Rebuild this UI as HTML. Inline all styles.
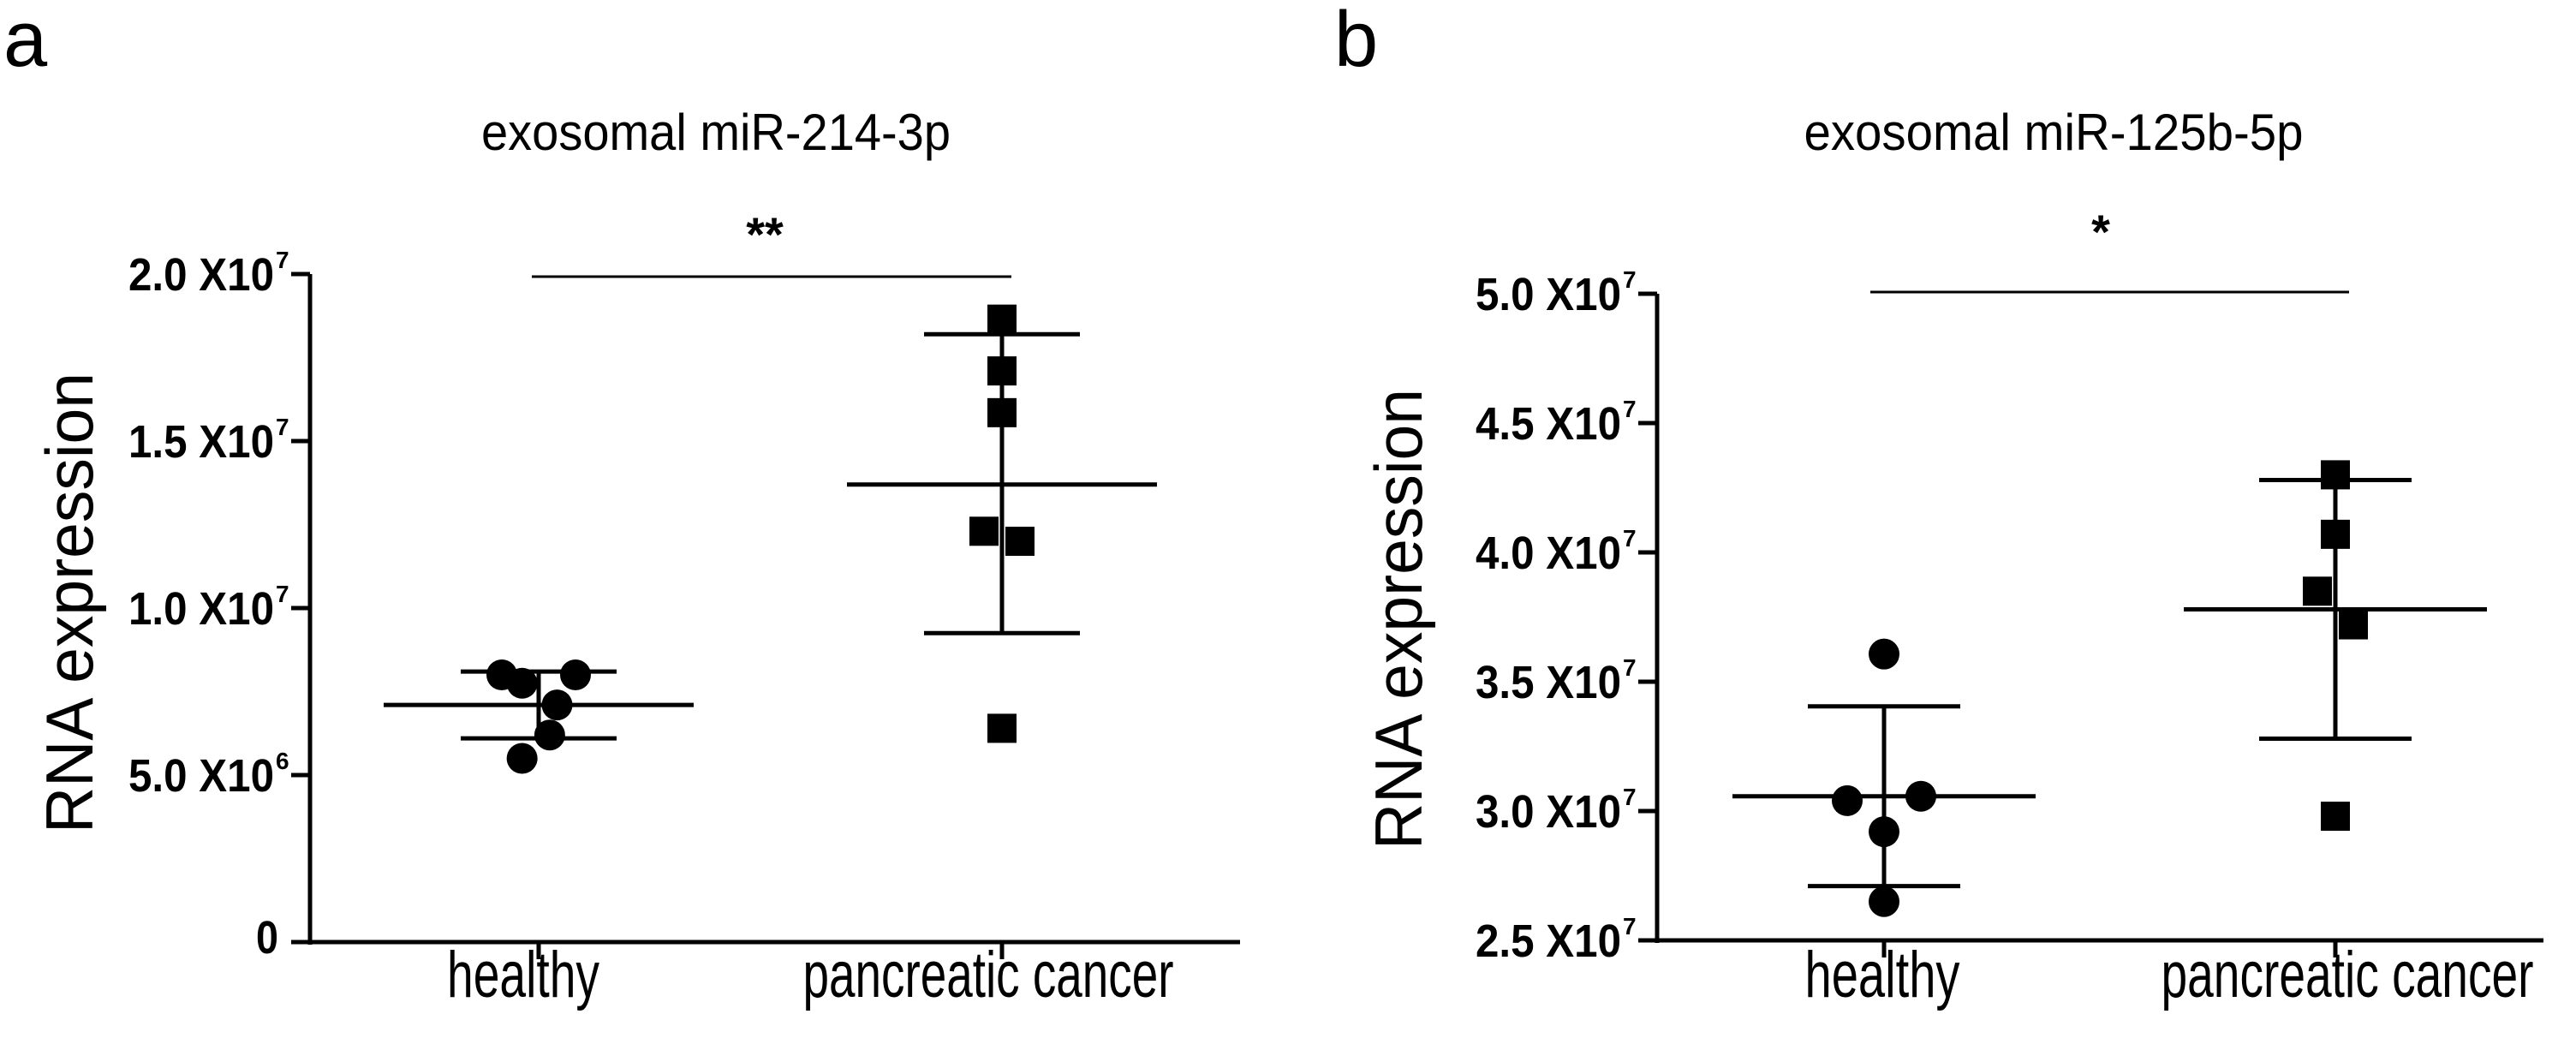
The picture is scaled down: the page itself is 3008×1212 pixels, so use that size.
<!DOCTYPE html>
<html><head><meta charset="utf-8"><style>
html,body{margin:0;padding:0;background:#fff;}
svg{display:block;}
text{font-family:"Liberation Sans",sans-serif;fill:#000;}
</style></head><body>
<svg id="fig" width="3008" height="1212" viewBox="0 0 3008 1212" xmlns="http://www.w3.org/2000/svg"></svg>
<script>
// Panel a data (units of 1e6)
const catsA = ["healthy", "pancreatic cancer"];
const healthyA = [8.0, 7.75, 8.0, 7.1, 6.2, 5.5];
const healthyAX = [-1.0, -0.45, 1.0, 0.5, 0.3, -0.45];
const cancerA = [18.65, 17.1, 15.85, 12.3, 12.0, 6.4];
const cancerAX = [0, 0, 0, -0.5, 0.5, 0];
const meanA = [7.1, 13.7];
const sdHighA = [8.1, 18.2];
const sdLowA = [6.1, 9.25];
const ticksA = [0, 5, 10, 15, 20];
const tickLabelsA = [["0",""], ["5.0 X10","6"], ["1.0 X10","7"], ["1.5 X10","7"], ["2.0 X10","7"]];
// Panel b data (units of 1e6)
const catsB = ["healthy", "pancreatic cancer"];
const healthyB = [36.07, 30.4, 30.57, 29.2, 26.5];
const healthyBX = [0, -1, 1, 0, 0];
const cancerB = [43.0, 40.7, 38.5, 37.2, 29.8];
const cancerBX = [0, 0, -0.5, 0.5, 0];
const meanB = [30.57, 37.8];
const sdHighB = [34.05, 42.8];
const sdLowB = [27.1, 32.8];
const ticksB = [25, 30, 35, 40, 45, 50];
const tickLabelsB = [["2.5 X10","7"], ["3.0 X10","7"], ["3.5 X10","7"], ["4.0 X10","7"], ["4.5 X10","7"], ["5.0 X10","7"]];

const NS = "http://www.w3.org/2000/svg";
const svg = document.getElementById("fig");
function mk(tag, attrs, parent) {
  const e = document.createElementNS(NS, tag);
  for (const k in attrs) e.setAttribute(k, attrs[k]);
  (parent || svg).appendChild(e);
  return e;
}

function panel(o) {
  const g = mk("g", {});
  
  
  const y = v => o.y0 - (v - o.vmin) * o.pxPer;
  const xc = [o.xh, o.xp];
  const L = mk("text", {x: o.letterX, y: 77, "font-size": 92}, g);
  L.textContent = o.letter;
  
  
  const T = mk("text", {x: o.titleX, y: 175, "font-size": 60, "text-anchor": "middle", textLength: o.titleW, lengthAdjust: "spacingAndGlyphs"}, g);
  T.textContent = o.title;
  
  
  const Y = mk("text", {x: 0, y: 0, "font-size": 78, "text-anchor": "middle", textLength: 538, lengthAdjust: "spacingAndGlyphs", transform: `translate(${o.ytX},${o.ytY}) rotate(-90)`}, g);
  Y.textContent = "RNA expression";
  
  
  const ya = mk("line", {x1: o.ax, y1: y(o.ticks[o.ticks.length-1]), x2: o.ax, y2: o.y0 + 3, stroke: "#000", "stroke-width": 5}, g);
  
  
  const xa = mk("line", {x1: o.ax, y1: o.y0, x2: o.axEnd, y2: o.y0, stroke: "#000", "stroke-width": 5}, g);
  
  
  o.ticks.forEach((t, i) => {
    const ty = y(t);
    const tk = mk("line", {x1: o.ax - 22, y1: ty, x2: o.ax, y2: ty, stroke: "#000", "stroke-width": 5}, g);
    
    
    const lab = o.labels[i];
    if (lab[1] === "") {
      const tx = mk("text", {x: o.ax - 37, y: ty + 13, "font-size": 54, "font-weight": "bold", "text-anchor": "end", textLength: 26, lengthAdjust: "spacingAndGlyphs"}, g);
      tx.textContent = lab[0];
      
      
    } else {
      const tx = mk("text", {x: o.ax - 212, y: ty + 19, "font-size": 54, "font-weight": "bold", textLength: 170, lengthAdjust: "spacingAndGlyphs"}, g);
      tx.textContent = lab[0];
      
      
      const sp = mk("text", {x: o.ax - 40, y: ty - 7, "font-size": 28, "font-weight": "bold"}, g);
      sp.textContent = lab[1];
      
      
    }
  });
  o.cats.forEach((c, i) => {
    const t = mk("line", {x1: xc[i], y1: o.y0, x2: xc[i], y2: o.y0 + 20, stroke: "#000", "stroke-width": 5}, g);
    
    
    const tx = mk("text", {x: o.catLabX[i], y: 1164, "font-size": 76, "text-anchor": "middle", textLength: o.catW[i], lengthAdjust: "spacingAndGlyphs"}, g);
    tx.textContent = c;
    
    
  });
  const sl = mk("line", {x1: o.sigX1, y1: o.sigY, x2: o.sigX2, y2: o.sigY, stroke: "#000", "stroke-width": 3}, g);
  
  
  const st = mk("text", {x: o.starX, y: o.starY + 28, "font-size": 56, "font-weight": "bold", "text-anchor": "middle"}, g);
  st.textContent = o.stars;
  
  
  [0, 1].forEach(i => {
    const x = xc[i];
    const v = mk("line", {x1: x, y1: y(o.sdHigh[i]), x2: x, y2: y(o.sdLow[i]), stroke: "#000", "stroke-width": 5}, g);
    
    
    const m = mk("line", {x1: x - o.meanHalf, y1: y(o.mean[i]), x2: x + o.meanHalf, y2: y(o.mean[i]), stroke: "#000", "stroke-width": 5}, g);
    
    
    [o.sdHigh[i], o.sdLow[i]].forEach(s => {
      const c = mk("line", {x1: x - o.capHalf, y1: y(s), x2: x + o.capHalf, y2: y(s), stroke: "#000", "stroke-width": 5}, g);
      
      
    });
  });
  o.healthy.forEach((v, i) => {
    const c = mk("circle", {cx: xc[0] + o.hx[i] * 43, cy: y(v), r: 18, fill: "#000"}, g);
    
    
  });
  o.cancer.forEach((v, i) => {
    const r = mk("rect", {x: xc[1] + o.cx[i] * 42 - 17, y: y(v) - 17, width: 34, height: 34, fill: "#000"}, g);
    
    
  });
}

panel({name: "panel-a", letter: "a", letterX: 4, title: "exosomal miR-214-3p", titleX: 836, titleW: 548,
  ytX: 108, ytY: 704, ax: 362, axEnd: 1448, y0: 1100, vmin: 0, pxPer: 39.0,
  ticks: ticksA, labels: tickLabelsA, cats: catsA, xh: 629, xp: 1170, catLabX: [611, 1154], catW: [178, 433],
  sigX1: 621, sigX2: 1181, sigY: 323, starX: 893, starY: 265, stars: "**",
  mean: meanA, sdHigh: sdHighA, sdLow: sdLowA, meanHalf: 181, capHalf: 91,
  healthy: healthyA, hx: healthyAX, cancer: cancerA, cx: cancerAX});

panel({name: "panel-b", letter: "b", letterX: 1558, title: "exosomal miR-125b-5p", titleX: 2398, titleW: 583,
  ytX: 1660, ytY: 723, ax: 1935, axEnd: 2970, y0: 1098, vmin: 25, pxPer: 30.2,
  ticks: ticksB, labels: tickLabelsB, cats: catsB, xh: 2200, xp: 2727, catLabX: [2198, 2741], catW: [181, 435],
  sigX1: 2184, sigX2: 2743, sigY: 341, starX: 2453, starY: 262, stars: "*",
  mean: meanB, sdHigh: sdHighB, sdLow: sdLowB, meanHalf: 177, capHalf: 89,
  healthy: healthyB, hx: healthyBX, cancer: cancerB, cx: cancerBX});
</script>
</body></html>
